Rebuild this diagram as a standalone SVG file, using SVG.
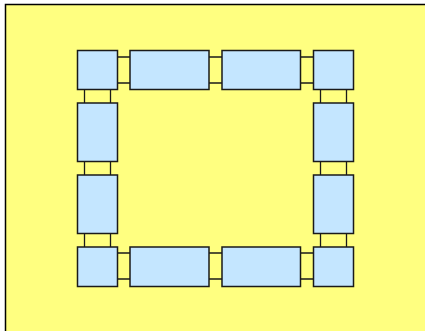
<svg xmlns="http://www.w3.org/2000/svg" width="425" height="331" viewBox="0 0 425 331">
<style>
.bg{fill:#ffff80;stroke:#000;stroke-width:1.5}
.box{fill:#c4e6ff;stroke:#1a1a1a;stroke-width:1.5}
.sh{fill:none;stroke:#7a7a60;stroke-width:1.5}
.ln{stroke:#1a1a1a;stroke-width:1.3;fill:none}
</style>
<rect class="bg" x="5.5" y="4.5" width="430" height="340"/>
<g id="connectors">
<path class="ln" d="M117.5 57H130M117.5 83H130M209 57H222M209 83H222M300.5 57H313.5M300.5 83H313.5"/>
<path class="ln" d="M117.5 253H130M117.5 279H130M209 253H222M209 279H222M300.5 253H313.5M300.5 279H313.5"/>
<path class="ln" d="M84.5 89.5V103M110.5 89.5V103M84.5 161.5V175M110.5 161.5V175M84.5 233.5V247M110.5 233.5V247"/>
<path class="ln" d="M320.5 89.5V103M346.5 89.5V103M320.5 161.5V175M346.5 161.5V175M320.5 233.5V247M346.5 233.5V247"/>
</g>
<g id="n1"><rect class="box" x="77.5" y="50.5" width="40" height="39"/></g>
<g id="n2"><rect class="box" x="130" y="50.5" width="79" height="39"/></g>
<g id="n3"><rect class="box" x="222" y="50.5" width="78.5" height="39"/></g>
<g id="n4"><rect class="box" x="313.5" y="50.5" width="40" height="39"/></g>
<g id="n5"><rect class="box" x="313.5" y="103" width="40" height="58.5"/></g>
<g id="n6"><rect class="box" x="313.5" y="175" width="40" height="58.5"/></g>
<g id="n7"><rect class="box" x="313.5" y="247" width="40" height="39.5"/></g>
<g id="n8"><rect class="box" x="222" y="247" width="78.5" height="39.5"/></g>
<g id="n9"><rect class="box" x="130" y="247" width="79" height="39.5"/></g>
<g id="n10"><rect class="box" x="77.5" y="247" width="40" height="39.5"/></g>
<g id="n11"><rect class="box" x="77.5" y="175" width="40" height="58.5"/></g>
<g id="n12"><rect class="box" x="77.5" y="103" width="40" height="58.5"/></g>
</svg>
